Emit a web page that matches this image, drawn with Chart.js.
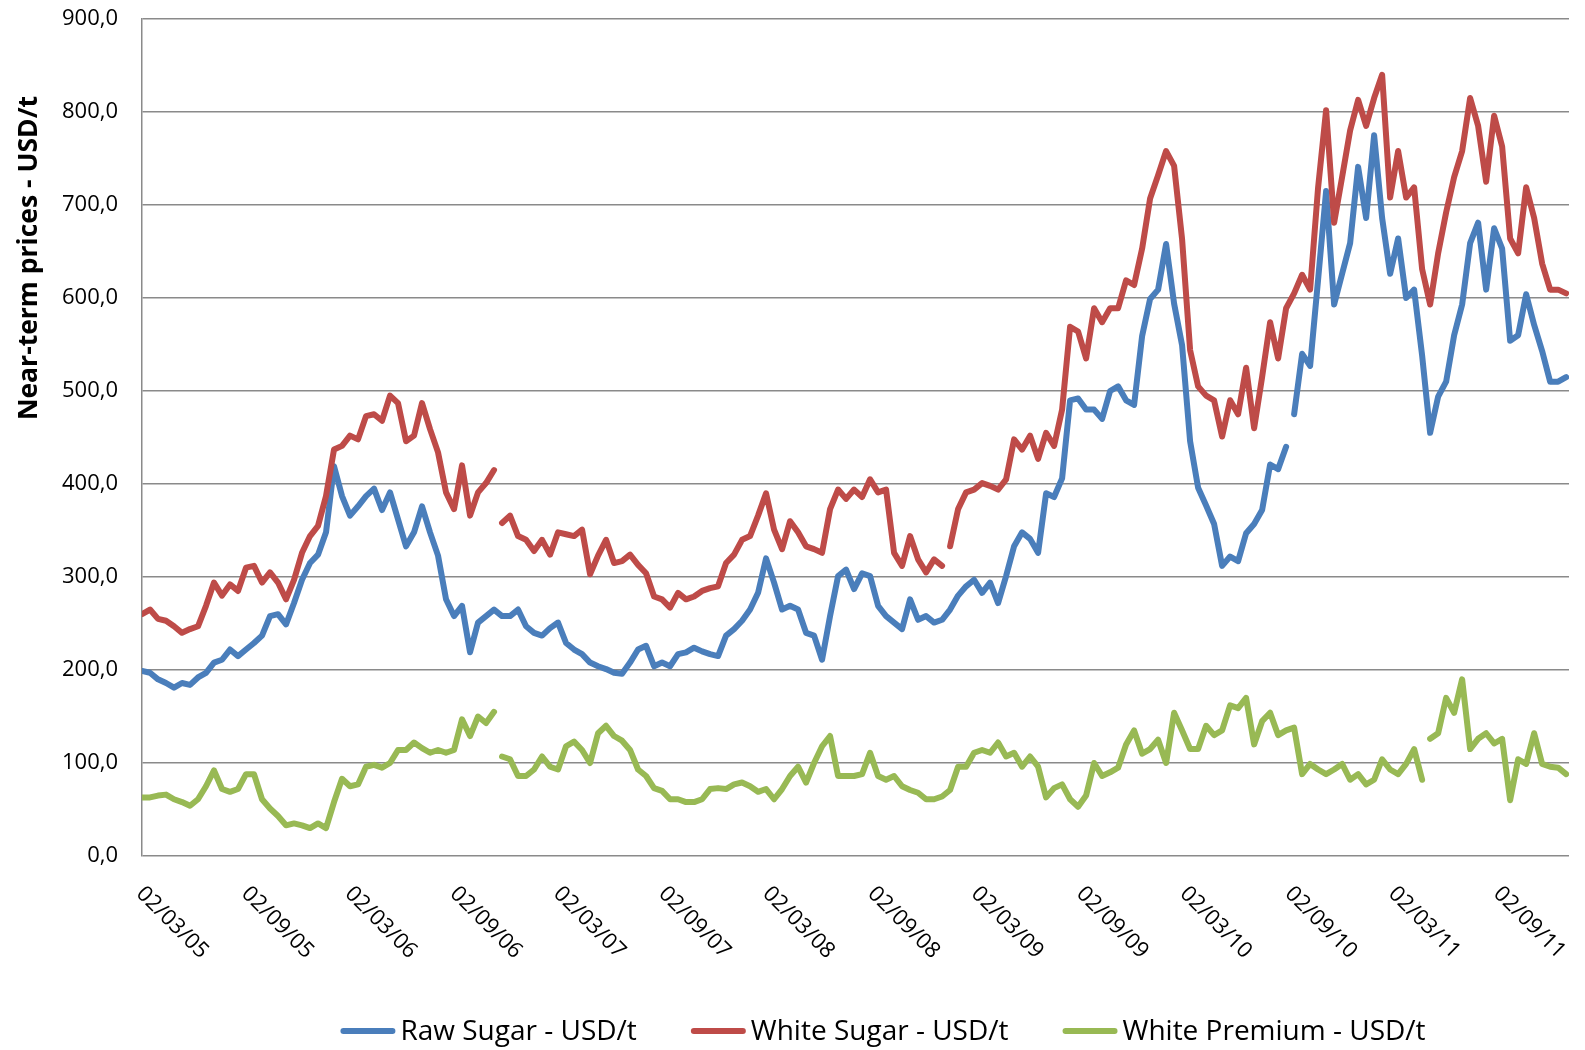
<!DOCTYPE html>
<html>
<head>
<meta charset="utf-8">
<script src="https://cdn.jsdelivr.net/npm/chart.js@4.4.1/dist/chart.umd.min.js"></script>
<style>
  html, body { margin: 0; background: #fff; }
</style>
</head>
<body>
<canvas id="sugarChart" width="1585" height="1050"></canvas>
<script>
// one sample every 14 days from 02/03/2005
const startDate = '02/03/05';
const stepDays = 14;

const tickLabels = ['02/03/05', '02/09/05', '02/03/06', '02/09/06', '02/03/07', '02/09/07', '02/03/08',
  '02/09/08', '02/03/09', '02/09/09', '02/03/10', '02/09/10', '02/03/11', '02/09/11'];

const yTitle = 'Near-term prices - USD/t';
const seriesNames = ['Raw Sugar - USD/t', 'White Sugar - USD/t', 'White Premium - USD/t'];

const rawSugar = [
  199, 197, 190, 186, 181, 186, 184, 192, 197, 208,
  211, 222, 215, 222, 229, 237, 258, 260, 249, 272,
  297, 315, 324, 348, 419, 387, 366, 376, 387, 395,
  372, 391, 362, 333, 348, 376, 348, 323, 276, 258,
  269, 219, 251, 258, 265, 258, 258, 265, 247, 240,
  237, 245, 251, 229, 222, 217, 208, 204, 201, 197,
  196, 208, 222, 226, 204, 208, 204, 217, 219, 224,
  220, 217, 215, 237, 244, 253, 265, 283, 320, 294,
  265, 269, 265, 240, 237, 211, 258, 301, 308, 287,
  304, 301, 269, 258, 251, 244, 276, 254, 258, 251,
  254, 265, 280, 290, 297, 283, 294, 272, 301, 333,
  348, 341, 326, 390, 386, 406, 490, 492, 480, 480,
  470, 500, 505, 490, 485, 559, 599, 609, 658, 594,
  549, 446, 396, 377, 357, 312, 322, 317, 347, 357,
  372, 421, 416, 440, 475, 540, 527, 620, 715, 593,
  626, 659, 741, 686, 775, 686, 626, 664, 600, 609,
  538, 455, 494, 510, 560, 593, 659, 681, 609, 675,
  653, 554, 560, 604, 571, 543, 510, 510, 515
];

const whiteSugar = [
  260, 265, 255, 253, 247, 240, 244, 247, 269, 294,
  280, 292, 285, 310, 312, 294, 305, 294, 276, 297,
  326, 344, 355, 387, 437, 441, 452, 448, 473, 475,
  468, 495, 487, 446, 452, 487, 459, 434, 391, 373,
  420, 366, 391, 401, 415, 358, 366, 344, 340, 328,
  340, 324, 348, 346, 344, 351, 303, 323, 340, 315,
  317, 324, 313, 304, 279, 276, 267, 283, 276, 279,
  285, 288, 290, 315, 324, 340, 344, 366, 390, 351,
  330, 360, 348, 333, 330, 326, 373, 394, 384, 394,
  386, 405, 391, 394, 326, 312, 344, 319, 305, 319,
  312, 333, 373, 391, 394, 401, 398, 394, 405, 448,
  437, 452, 427, 455, 441, 480, 569, 564, 535, 589,
  574, 589, 589, 619, 614, 653, 707, 732, 758, 742,
  663, 544, 505, 495, 490, 451, 490, 475, 525, 460,
  515, 574, 535, 589, 605, 625, 609, 719, 802, 681,
  730, 780, 813, 785, 815, 840, 708, 758, 708, 719,
  631, 593, 648, 692, 730, 758, 815, 785, 725, 796,
  763, 664, 648, 719, 686, 637, 609, 609, 605
];

const whitePremium = [
  63, 63, 65, 66, 61, 58, 54, 61, 75, 92,
  72, 69, 72, 88, 88, 61, 51, 43, 33, 35,
  33, 30, 35, 30, 58, 83, 75, 77, 96, 98,
  95, 100, 114, 114, 122, 116, 111, 114, 111, 114,
  147, 129, 150, 143, 155, 107, 104, 86, 86, 93,
  107, 96, 93, 118, 123, 114, 100, 132, 140, 129,
  124, 114, 93, 86, 73, 70, 61, 61, 58, 58,
  61, 72, 73, 72, 77, 79, 75, 69, 72, 61,
  72, 86, 96, 79, 100, 118, 129, 86, 86, 86,
  88, 111, 86, 82, 86, 75, 71, 68, 61, 61,
  64, 71, 96, 96, 111, 114, 111, 122, 107, 111,
  96, 107, 96, 63, 73, 77, 61, 53, 65, 100,
  86, 90, 95, 120, 135, 110, 115, 125, 100, 154,
  135, 115, 115, 140, 130, 135, 162, 159, 170, 120,
  145, 154, 130, 135, 138, 88, 99, 93, 88, 93,
  99, 82, 88, 77, 82, 104, 93, 88, 99, 115,
  82, 126, 132, 170, 154, 190, 115, 126, 132, 121,
  126, 60, 104, 99, 132, 99, 96, 95, 88
];

// missing quotes: no line between sample k and k+1
const rawSugarBreaks = [143];
const whiteSugarBreaks = [44, 100];
const whitePremiumBreaks = [44, 160];

function dayOffset(label) {
  const [d, m, y] = label.split('/').map(Number);
  const [d0, m0, y0] = startDate.split('/').map(Number);
  return Math.round((Date.UTC(2000 + y, m - 1, d) - Date.UTC(2000 + y0, m0 - 1, d0)) / 86400000);
}

const tickDays = tickLabels.map(dayOffset);

function toPoints(values) {
  return values.map((v, i) => ({ x: i * stepDays, y: v }));
}

function gapSegment(breaks) {
  return {
    borderColor: (ctx) => (breaks.includes(ctx.p0DataIndex) ? 'rgba(0,0,0,0)' : undefined),
  };
}

const FONT = '"Open Sans", "Noto Sans", sans-serif';

const decorPlugin = {
  id: 'decor',
  afterDraw(chart) {
    const ctx = chart.ctx;
    const xs = chart.scales.x;
    ctx.save();
    ctx.fillStyle = '#000';

    // rotated date labels
    ctx.font = `22px ${FONT}`;
    ctx.textAlign = 'left';
    ctx.textBaseline = 'alphabetic';
    xs.ticks.forEach((t, k) => {
      const px = xs.getPixelForValue(t.value);
      ctx.save();
      ctx.translate(px - 1, 889);
      ctx.rotate(Math.PI / 4);
      ctx.fillText(tickLabels[k], 0, 8);
      ctx.restore();
    });

    // y axis title
    ctx.save();
    ctx.translate(29, 258);
    ctx.rotate(-Math.PI / 2);
    ctx.font = `bold 26.5px ${FONT}`;
    ctx.textAlign = 'center';
    ctx.textBaseline = 'middle';
    ctx.fillText(yTitle, 0, 0);
    ctx.restore();

    // legend
    ctx.font = `28px ${FONT}`;
    const lineW = 55, gap = 5, spacing = 54;
    const sets = chart.data.datasets;
    const widths = sets.map((ds) => lineW + gap + ctx.measureText(ds.label).width);
    const total = widths.reduce((a, b) => a + b, 0) + spacing * (sets.length - 1);
    let x = 883 - total / 2;
    const ly = 1031;
    sets.forEach((ds, k) => {
      ctx.strokeStyle = ds.borderColor;
      ctx.lineWidth = 6;
      ctx.lineCap = 'round';
      ctx.beginPath();
      ctx.moveTo(x + 3, ly);
      ctx.lineTo(x + lineW - 3, ly);
      ctx.stroke();
      ctx.textAlign = 'left';
      ctx.textBaseline = 'alphabetic';
      ctx.fillText(ds.label, x + lineW + gap, ly + 9);
      x += widths[k] + spacing;
    });
    ctx.restore();
  },
};

const lineStyle = {
  borderWidth: 6,
  pointRadius: 0,
  pointHoverRadius: 0,
  tension: 0,
  borderJoinStyle: 'round',
  borderCapStyle: 'round',
  fill: false,
};

new Chart(document.getElementById('sugarChart'), {
  type: 'line',
  data: {
    datasets: [
      { ...lineStyle, label: seriesNames[0], data: toPoints(rawSugar), borderColor: '#4a7ebb', order: 3, segment: gapSegment(rawSugarBreaks) },
      { ...lineStyle, label: seriesNames[1], data: toPoints(whiteSugar), borderColor: '#be4b48', order: 2, segment: gapSegment(whiteSugarBreaks) },
      { ...lineStyle, label: seriesNames[2], data: toPoints(whitePremium), borderColor: '#98b954', order: 1, segment: gapSegment(whitePremiumBreaks) },
    ],
  },
  options: {
    responsive: false,
    animation: false,
    devicePixelRatio: 1,
    layout: { padding: { top: 19, right: 16, left: 0, bottom: 0 } },
    plugins: {
      legend: { display: false },
      tooltip: { enabled: false },
    },
    scales: {
      x: {
        type: 'linear',
        min: 0,
        max: 2497,
        afterBuildTicks: (scale) => { scale.ticks = tickDays.map((v) => ({ value: v })); },
        afterFit: (scale) => {
          scale.height = 194;
          scale.paddingTop = 0;
          scale.paddingBottom = 0;
        },
        ticks: { display: false },
        grid: { display: false },
        border: { display: false },
      },
      y: {
        min: 0,
        max: 900,
        afterFit: (scale) => {
          scale.width = 142;
          scale.paddingTop = 0;
          scale.paddingBottom = 0;
        },
        ticks: {
          stepSize: 100,
          padding: 24,
          color: '#000',
          font: { family: FONT, size: 22 },
          callback: (v) => Number(v).toFixed(1).replace('.', ','),
        },
        grid: { color: '#8a8a8a', lineWidth: 1.5, drawTicks: false },
        border: { display: true, color: '#8a8a8a', width: 1.5 },
      },
    },
  },
  plugins: [decorPlugin],
});
</script>
</body>
</html>
